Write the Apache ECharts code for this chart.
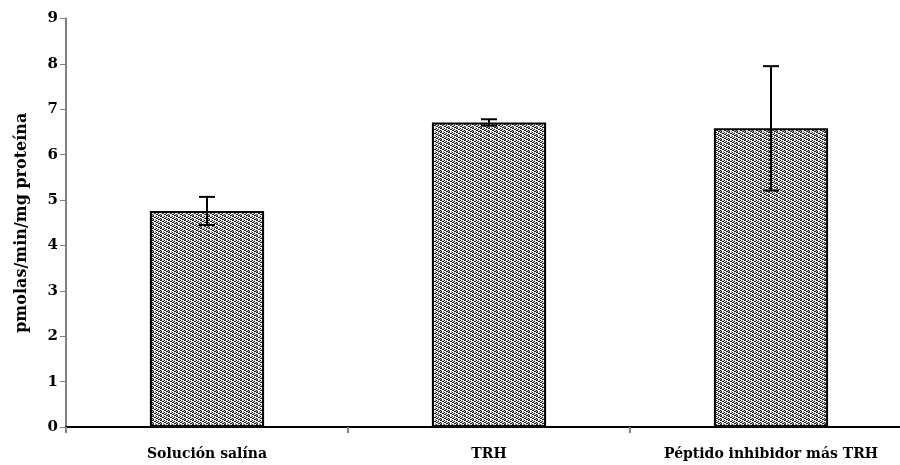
<!DOCTYPE html>
<html>
<head>
<meta charset="utf-8">
<script src="https://cdn.jsdelivr.net/npm/echarts@6/dist/echarts.min.js"></script>
<style>html,body{margin:0;padding:0;background:#fff}#c{width:900px;height:465px}</style>
</head>
<body>
<div id="c"></div>
<script>
var categories = ['Solución salína', 'TRH', 'Péptido inhibidor más TRH'];
var means = [4.76, 6.71, 6.58];
var errors = [0.31, 0.07, 1.37];
var yTicks = [0, 1, 2, 3, 4, 5, 6, 7, 8, 9];

// texture tile for the bars
var tile = document.createElement('canvas');
tile.width = 8; tile.height = 4;
var tc = tile.getContext('2d');
tc.fillStyle = '#ffffff'; tc.fillRect(0, 0, 8, 4);
var rows = ['##..#...', '..##..#.', '#...##..', '.#....##'];
for (var r = 0; r < rows.length; r++) {
  for (var c = 0; c < rows[r].length; c++) {
    if (rows[r][c] === '#') { tc.fillStyle = '#262626'; tc.fillRect(c, r, 1, 1); }
    else if ((r + c) % 3 === 0) { tc.fillStyle = '#a8a8a8'; tc.fillRect(c, r, 1, 1); }
  }
}

var font = '"DejaVu Serif", "Liberation Serif", serif';
var chart = echarts.init(document.getElementById('c'), null, {renderer: 'canvas'});
chart.setOption({
  animation: false,
  grid: {left: 66, top: 18.5, height: 408.5, width: 846, containLabel: false, outerBoundsMode: 'none'},
  xAxis: {
    type: 'category',
    data: categories,
    axisLine: {lineStyle: {color: '#000', width: 2}},
    axisTick: {show: true, interval: 0, length: 6, lineStyle: {color: '#808080', width: 2}},
    axisLabel: {interval: 0, hideOverlap: false, color: '#000', fontFamily: font, fontWeight: 'bold', fontSize: 14, margin: 20}
  },
  yAxis: {
    type: 'value',
    min: yTicks[0], max: yTicks[yTicks.length - 1], interval: 1,
    name: 'pmolas/min/mg proteína',
    nameLocation: 'middle',
    nameGap: 36,
    nameTextStyle: {color: '#000', fontFamily: font, fontWeight: 'bold', fontSize: 16},
    axisLine: {show: true, lineStyle: {color: '#808080', width: 2}},
    axisTick: {show: true, length: 6, lineStyle: {color: '#808080', width: 1}},
    axisLabel: {color: '#000', fontFamily: font, fontWeight: 'bold', fontSize: 15, margin: 8},
    splitLine: {show: false}
  },
  series: [
    {
      type: 'bar',
      data: means,
      barWidth: '40.5%',
      itemStyle: {
        color: {image: tile, repeat: 'repeat'},
        borderColor: '#000',
        borderWidth: 2
      }
    },
    {
      type: 'custom',
      data: means.map(function (m, i) { return [i, m - errors[i], m + errors[i]]; }),
      renderItem: function (params, api) {
        var lo = api.coord([api.value(0), api.value(1)]);
        var hi = api.coord([api.value(0), api.value(2)]);
        var hw = 8;
        var st = {stroke: '#000', lineWidth: 2};
        return {
          type: 'group',
          children: [
            {type: 'line', shape: {x1: hi[0], y1: hi[1], x2: lo[0], y2: lo[1]}, style: st},
            {type: 'line', shape: {x1: hi[0] - hw, y1: hi[1], x2: hi[0] + hw, y2: hi[1]}, style: st},
            {type: 'line', shape: {x1: lo[0] - hw, y1: lo[1], x2: lo[0] + hw, y2: lo[1]}, style: st}
          ]
        };
      },
      z: 10
    }
  ]
});
</script>
</body>
</html>
